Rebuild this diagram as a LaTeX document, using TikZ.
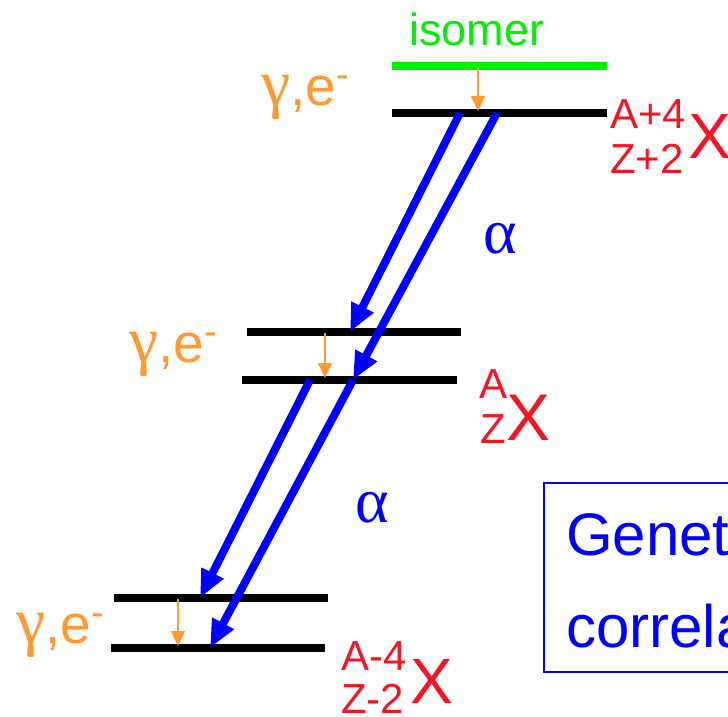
\documentclass[tikz,border=0pt]{standalone}
\usepackage{fontspec}
\setmainfont{Liberation Sans}
\newfontfamily\grk{Liberation Serif}
\usetikzlibrary{arrows.meta}
\definecolor{lvgreen}{RGB}{0,240,0}
\definecolor{orng}{RGB}{255,153,51}
\definecolor{nred}{RGB}{245,20,35}
\definecolor{pblue}{RGB}{0,0,255}
\newcommand\fsz[1]{\fontsize{#1pt}{#1pt}\selectfont}
\newcommand\gelabel{{\grk\fsz{66}γ}{\fsz{55},e\raisebox{18pt}{\fsz{38}-}}}
\tikzset{
  levelline/.style={line width=8pt},
  alphaarr/.style={pblue,line width=8pt,-{Triangle[length=28pt,width=23pt]}},
  gammaarr/.style={orng,line width=2pt,-{Triangle[length=15pt,width=14pt]}},
  txt/.style={inner sep=0pt,anchor=base west},
}
\begin{document}
\begin{tikzpicture}[x=1pt,y=-1pt]
\useasboundingbox (0,0) rectangle (728,716);
\clip (0,0) rectangle (728,716);
% level end points
\coordinate (g1) at (392,66);  \coordinate (g2) at (607,66);
\coordinate (a1) at (392,113); \coordinate (a2) at (607,113);
\coordinate (b1) at (247,332); \coordinate (b2) at (461,332);
\coordinate (c1) at (242,380); \coordinate (c2) at (457,380);
\coordinate (d1) at (114,598); \coordinate (d2) at (328,598);
\coordinate (e1) at (111,648); \coordinate (e2) at (325,648);
% levels
\draw[levelline,lvgreen] (g1) -- (g2);
\draw[levelline,black] (a1) -- (a2);
\draw[levelline,black] (b1) -- (b2);
\draw[levelline,black] (c1) -- (c2);
\draw[levelline,black] (d1) -- (d2);
\draw[levelline,black] (e1) -- (e2);
% alpha arrow ends
\coordinate (s1) at (460,113); \coordinate (t1) at (350,332);
\coordinate (s2) at (497,113); \coordinate (t2) at (353,380);
\coordinate (s3) at (310,380); \coordinate (t3) at (200,598);
\coordinate (s4) at (353,380); \coordinate (t4) at (210,648);
\draw[alphaarr] (s1) -- (t1);
\draw[alphaarr] (s2) -- (t2);
\draw[alphaarr] (s3) -- (t3);
\draw[alphaarr] (s4) -- (t4);
% gamma arrows
\coordinate (u1) at (478,67);  \coordinate (v1) at (478,111);
\coordinate (u2) at (325,333); \coordinate (v2) at (325,378);
\coordinate (u3) at (178,599); \coordinate (v3) at (178,646);
\draw[gammaarr] (u1) -- (v1);
\draw[gammaarr] (u2) -- (v2);
\draw[gammaarr] (u3) -- (v3);
% texts
\node[txt,lvgreen] (iso) at (409,45) {\fsz{45}isomer};
\node[txt,orng] (ge1) at (261,105) {\gelabel};
\node[txt,orng] (ge2) at (129,362) {\gelabel};
\node[txt,orng] (ge3) at (16,643) {\gelabel};
\node[txt,pblue] (al1) at (483,253) {\grk\fsz{64}α};
\node[txt,pblue] (al2) at (355,522) {\grk\fsz{64}α};
% nuclide labels
\node[txt,nred] (n1a) at (610,128) {\fsz{42}A+4};
\node[txt,nred] (n1z) at (610,173) {\fsz{42}Z+2};
\node[txt,nred] (n1x) at (688,158) {\fsz{64}X};
\node[txt,nred] (n2a) at (479,398) {\fsz{42}A};
\node[txt,nred] (n2z) at (480,443) {\fsz{42}Z};
\node[txt,nred] (n2x) at (506,440) {\fsz{66}X};
\node[txt,nred] (n3a) at (341,670) {\fsz{42}A-4};
\node[txt,nred] (n3z) at (341,713) {\fsz{42}Z-2};
\node[txt,nred] (n3x) at (410,703) {\fsz{64}X};
% box
\draw[pblue,line width=2pt] (544,483) rectangle (900,672);
\node[txt,pblue] (bx1) at (566,555) {\fsz{60}Genetic};
\node[txt,pblue] (bx2) at (566,647) {\fsz{60}correlation};
\end{tikzpicture}
\end{document}
